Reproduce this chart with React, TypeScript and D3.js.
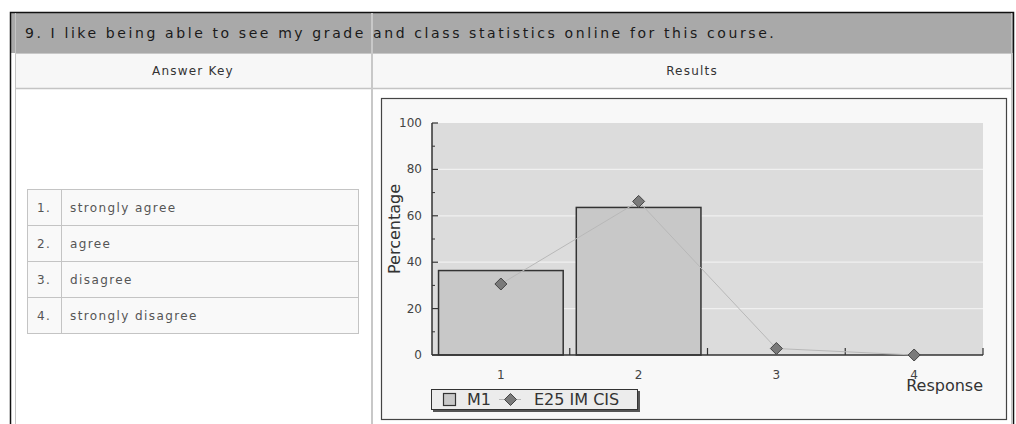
import React from 'react';
import * as d3 from 'd3';

// Survey question and answer key
const questionText = '9. I like being able to see my grade and class statistics online for this course.';
const columnHeaders = ['Answer Key', 'Results'];
const answerNumbers = ['1.', '2.', '3.', '4.'];
const answerLabels = ['strongly agree', 'agree', 'disagree', 'strongly disagree'];

// Chart data
const categories = ['1', '2', '3', '4'];
const m1Values = [36.4, 63.6, 0, 0];
const e25Values = [30.6, 66.2, 2.8, 0];
const yTicks = [0, 20, 40, 60, 80, 100];
const yMinorTicks = [10, 30, 50, 70, 90];
const seriesNames = ['M1', 'E25 IM CIS'];
const xTitle = 'Response';
const yTitle = 'Percentage';

const W = 1016;
const H = 424;

// plot area
const PL = 432, PR = 983, PT = 123, PB = 355;

const tableFont = '"DejaVu Sans", Verdana, sans-serif';

export default function App() {
  const x = d3.scaleBand<string>().domain(categories).range([PL, PR]).paddingInner(0.095).paddingOuter(0.0475);
  const y = d3.scaleLinear().domain([0, 100]).range([PB, PT]);
  const step = x.step();
  const center = (c: string) => (x(c) as number) + x.bandwidth() / 2;

  const line = d3
    .line<number>()
    .x((_, i) => center(categories[i]))
    .y((d) => y(d));

  const diamond = (cx: number, cy: number, r: number) =>
    `M${cx},${cy - r}L${cx + r},${cy}L${cx},${cy + r}L${cx - r},${cy}Z`;

  const rowTop = 189;
  const rowH = 36;

  return (
    <svg
      width={W}
      height={H}
      viewBox={`0 0 ${W} ${H}`}
      style={{ position: 'fixed', left: 0, top: 0, background: '#ffffff' }}
    >
      {/* page frame */}
      <rect x={0} y={0} width={W} height={H} fill="#ffffff" />
      <rect x={11} y={13} width={1002} height={40} fill="#a9a9a9" />
      <rect x={15} y={53} width={996} height={35} fill="#f7f7f7" />
      <path d="M10.5,430V12.5H1013.5V430" fill="none" stroke="#111" strokeWidth={1.5} />
      <line x1={15.5} y1={13} x2={15.5} y2={430} stroke="#c4c4c4" />
      <line x1={1011.5} y1={13} x2={1011.5} y2={430} stroke="#c4c4c4" />
      <line x1={15} y1={53.5} x2={1011} y2={53.5} stroke="#c8c8c8" />
      <line x1={15} y1={88.5} x2={1011} y2={88.5} stroke="#c4c4c4" strokeWidth={1.5} />
      <line x1={372} y1={13} x2={372} y2={430} stroke="#c8c8c8" strokeWidth={2} />

      <text
        x={25}
        y={38}
        fontFamily={tableFont}
        fontSize={14}
        letterSpacing={2.6}
        fill="#1a1a1a"
      >
        {questionText}
      </text>
      <text x={193} y={75} textAnchor="middle" fontFamily={tableFont} fontSize={12} letterSpacing={1.2} fill="#333">
        {columnHeaders[0]}
      </text>
      <text x={692} y={75} textAnchor="middle" fontFamily={tableFont} fontSize={12} letterSpacing={1.2} fill="#333">
        {columnHeaders[1]}
      </text>

      {/* answer key table */}
      <g>
        {answerLabels.map((lab, i) => (
          <g key={lab}>
            <rect x={27.5} y={rowTop + i * rowH + 0.5} width={331} height={rowH} fill="#f9f9f9" stroke="#c4c4c4" />
            <text x={37} y={rowTop + i * rowH + 23} fontFamily={tableFont} fontSize={12} letterSpacing={1.4} fill="#555">
              {answerNumbers[i]}
            </text>
            <text x={70} y={rowTop + i * rowH + 23} fontFamily={tableFont} fontSize={12} letterSpacing={1.4} fill="#555">
              {lab}
            </text>
          </g>
        ))}
        <line x1={61.5} y1={rowTop} x2={61.5} y2={rowTop + rowH * 4 + 1} stroke="#c4c4c4" />
      </g>

      {/* chart box */}
      <rect x={381.5} y={98.5} width={625} height={321} fill="#f8f8f8" stroke="#444" strokeWidth={1.2} />

      {/* plot background and grid */}
      <rect x={PL} y={PT} width={PR - PL} height={PB - PT} fill="#dcdcdc" />
      {yTicks.slice(1, -1).map((t) => (
        <line key={t} x1={PL} x2={PR} y1={y(t)} y2={y(t)} stroke="#f0f0f0" strokeWidth={1.2} />
      ))}

      {/* M1 bars */}
      {categories.map((c, i) =>
        m1Values[i] > 0 ? (
          <rect
            key={c}
            x={x(c)}
            y={y(m1Values[i])}
            width={x.bandwidth()}
            height={PB - y(m1Values[i])}
            fill="#c8c8c8"
            stroke="#333"
            strokeWidth={1.5}
          />
        ) : null
      )}

      {/* axes */}
      <line x1={PL} x2={PR} y1={PB} y2={PB} stroke="#333" strokeWidth={1.5} />
      <line x1={PL} x2={PL} y1={PT} y2={PB} stroke="#333" strokeWidth={1.5} />
      {yTicks.map((t) => (
        <g key={t}>
          <line x1={PL} x2={PL + 6} y1={y(t)} y2={y(t)} stroke="#333" strokeWidth={1.2} />
          <text x={422} y={y(t) + 4} textAnchor="end" fontFamily={tableFont} fontSize={12} fill="#444">
            {t}
          </text>
        </g>
      ))}
      {yMinorTicks.map((t) => (
        <line key={t} x1={PL} x2={PL + 3} y1={y(t)} y2={y(t)} stroke="#333" />
      ))}
      {categories.map((c, i) => (
        <g key={c}>
          <line
            x1={PL + (i + 1) * step}
            x2={PL + (i + 1) * step}
            y1={PB}
            y2={PB - 7}
            stroke="#333"
            strokeWidth={1.2}
          />
          <text x={center(c)} y={379} textAnchor="middle" fontFamily={tableFont} fontSize={12} fill="#444">
            {c}
          </text>
        </g>
      ))}

      {/* E25 IM CIS series */}
      <path d={line(e25Values) || ''} fill="none" stroke="#b8b8b8" strokeWidth={1} />
      {e25Values.map((v, i) => (
        <path
          key={i}
          d={diamond(center(categories[i]), y(v), 6)}
          fill="#7a7a7a"
          stroke="#444"
          strokeWidth={1}
          strokeLinejoin="round"
        />
      ))}

      {/* axis titles */}
      <text x={PR} y={391} textAnchor="end" fontFamily={tableFont} fontSize={16} fill="#333">
        {xTitle}
      </text>
      <text
        transform={`translate(400,229) rotate(-90)`}
        textAnchor="middle"
        fontFamily={tableFont}
        fontSize={16}
        fill="#333"
      >
        {yTitle}
      </text>

      {/* legend */}
      <g>
        <rect x={433} y={391} width={207} height={21} fill="#555" />
        <rect x={431.5} y={389.5} width={206} height={20} fill="#ececec" stroke="#333" strokeWidth={1} />
        <rect x={443.5} y={393.5} width={12} height={12} fill="#c8c8c8" stroke="#333" strokeWidth={1.2} />
        <text x={467} y={405} fontFamily={tableFont} fontSize={16} fill="#333">
          {seriesNames[0]}
        </text>
        <line x1={499} x2={521} y1={399.5} y2={399.5} stroke="#b8b8b8" />
        <path d={diamond(510.5, 399.5, 6)} fill="#7a7a7a" stroke="#444" strokeLinejoin="round" />
        <text x={534} y={405} fontFamily={tableFont} fontSize={16} fill="#333">
          {seriesNames[1]}
        </text>
      </g>
    </svg>
  );
}
